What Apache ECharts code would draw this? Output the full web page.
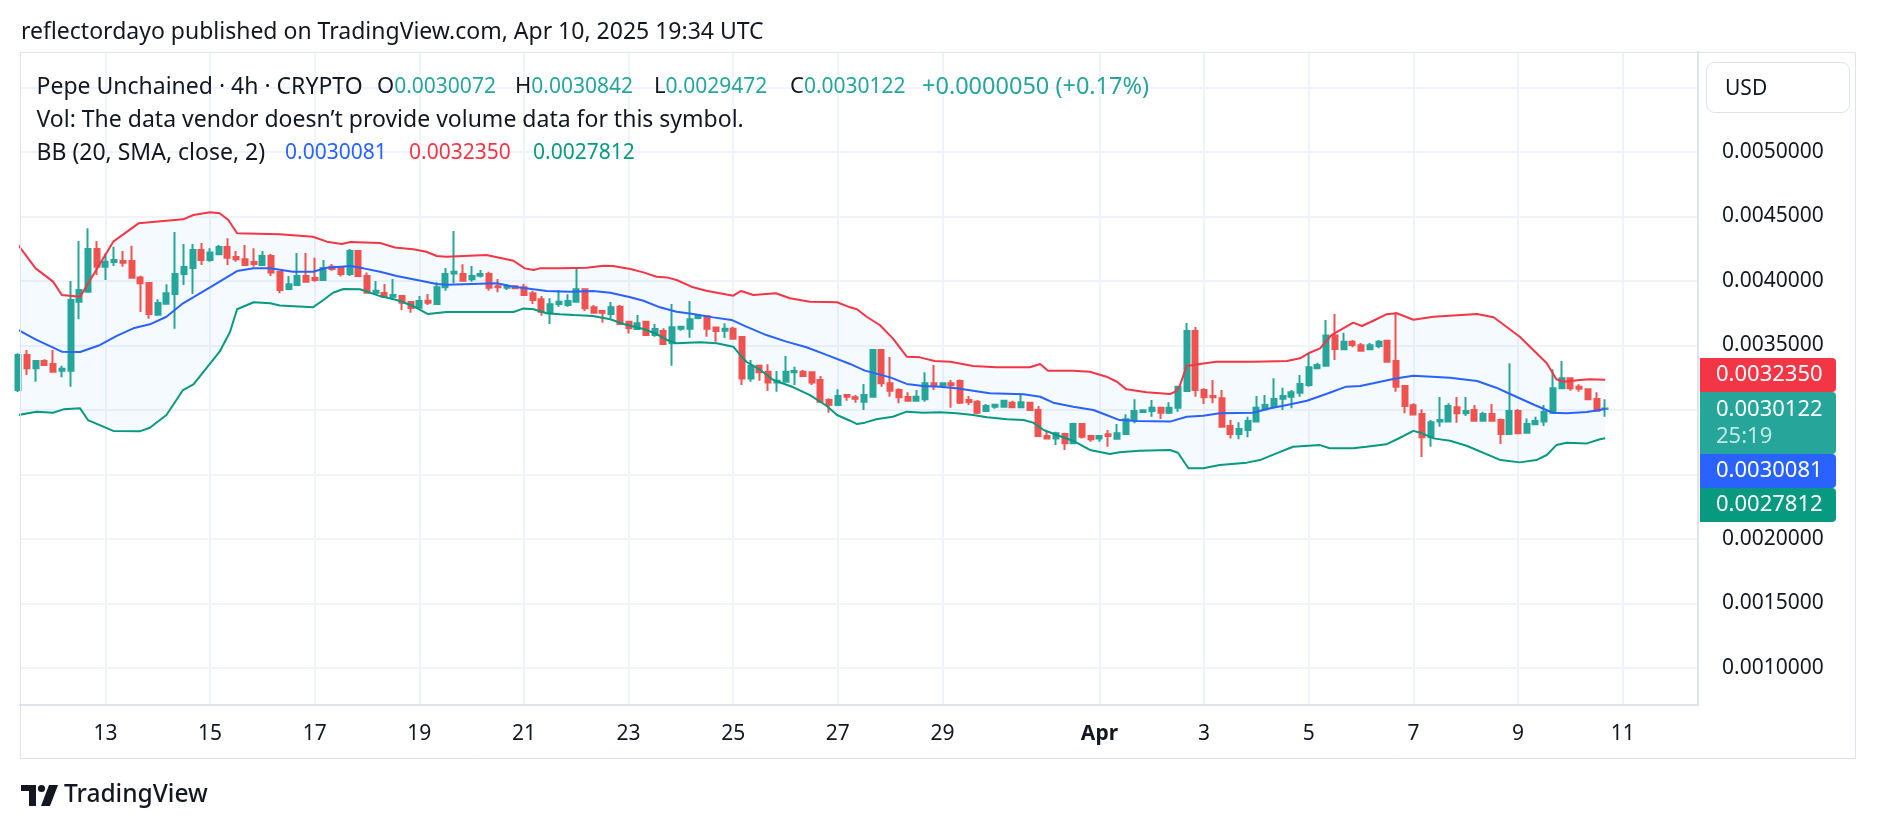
<!DOCTYPE html>
<html><head><meta charset="utf-8">
<script src="https://cdn.jsdelivr.net/npm/echarts@6/dist/echarts.min.js"></script>
<style>html,body{margin:0;padding:0;background:#fff;}#c{width:1878px;height:830px;}</style>
</head><body><div id="c"></div>
<script>
// first candle open time (4h candles, UTC)
const startTime = Date.UTC(2025, 2, 11, 8);
const stepMs = 4 * 3600 * 1000;

const tickDates = ['2025-03-13','2025-03-15','2025-03-17','2025-03-19','2025-03-21','2025-03-23','2025-03-25','2025-03-27','2025-03-29','2025-04-01','2025-04-03','2025-04-05','2025-04-07','2025-04-09','2025-04-11'];
const tickLabels = ['13','15','17','19','21','23','25','27','29','Apr','3','5','7','9','11'];
const priceTicks = [0.001,0.0015,0.002,0.0025,0.003,0.0035,0.004,0.0045,0.005];
const priceGrid = [0.001,0.0015,0.002,0.0025,0.003,0.0035,0.004,0.0045,0.005,0.0055];

const open = [
0.003155,0.003426,0.003323,0.003380,0.003356,0.003305,0.003305,0.003840,0.003917,0.004248,
0.004111,0.004147,0.004155,0.004155,0.004028,0.003985,0.003739,0.003824,0.003899,0.004054,
0.004101,0.004240,0.004163,0.004207,0.004264,0.004186,0.004168,0.004147,0.004124,0.004194,
0.004070,0.003938,0.003969,0.004039,0.004023,0.004008,0.004111,0.004101,0.004054,0.004233,
0.004039,0.003909,0.003907,0.003878,0.003883,0.003837,0.003793,0.003847,0.003822,0.003951,
0.004059,0.004054,0.004013,0.004041,0.004054,0.003959,0.003948,0.003959,0.003951,0.003905,
0.003858,0.003750,0.003822,0.003814,0.003840,0.003936,0.003796,0.003768,0.003744,0.003801,
0.003685,0.003628,0.003685,0.003581,0.003612,0.003517,0.003630,0.003630,0.003713,0.003726,
0.003639,0.003615,0.003630,0.003566,0.003245,0.003344,0.003297,0.003214,0.003219,0.003292,
0.003297,0.003292,0.003232,0.003078,0.003039,0.003116,0.003098,0.003064,0.003103,0.003465,
0.003207,0.003155,0.003101,0.003072,0.003083,0.003207,0.003191,0.003207,0.003225,0.003078,
0.003064,0.002992,0.003026,0.003026,0.003057,0.003021,0.003057,0.003000,0.002798,0.002780,
0.002814,0.002742,0.002891,0.002798,0.002780,0.002812,0.002777,0.002814,0.002922,0.002984,
0.002992,0.003018,0.002979,0.003018,0.003147,0.003612,0.003155,0.003109,0.003091,0.002876,
0.002814,0.002845,0.002910,0.003005,0.003026,0.003088,0.003103,0.003134,0.003194,0.003323,
0.003344,0.003577,0.003470,0.003529,0.003501,0.003470,0.003496,0.003537,0.003380,0.003186,
0.003036,0.002969,0.002788,0.002910,0.002910,0.003021,0.002974,0.003000,0.002917,0.002969,
0.002922,0.002814,0.002992,0.002824,0.002889,0.002910,0.002979,0.003168,0.003246,0.003181,
0.003160,0.003085,0.0030072];
const close = [
0.003426,0.003323,0.003380,0.003349,0.003297,0.003320,0.003853,0.003930,0.004248,0.004111,
0.004150,0.004163,0.004142,0.004025,0.003982,0.003744,0.003829,0.003905,0.004054,0.004108,
0.004240,0.004163,0.004220,0.004264,0.004181,0.004168,0.004124,0.004132,0.004194,0.004065,
0.003930,0.003975,0.004039,0.003995,0.004008,0.004101,0.004093,0.004054,0.004233,0.004039,
0.003909,0.003925,0.003878,0.003891,0.003832,0.003791,0.003845,0.003832,0.003951,0.004054,
0.004072,0.004002,0.004039,0.004054,0.003948,0.003951,0.003959,0.003943,0.003891,0.003853,
0.003762,0.003819,0.003840,0.003845,0.003936,0.003788,0.003754,0.003754,0.003796,0.003667,
0.003634,0.003672,0.003581,0.003628,0.003512,0.003641,0.003646,0.003703,0.003731,0.003630,
0.003612,0.003630,0.003553,0.003245,0.003344,0.003292,0.003214,0.003227,0.003297,0.003302,
0.003263,0.003214,0.003064,0.003041,0.003109,0.003103,0.003088,0.003116,0.003465,0.003207,
0.003150,0.003098,0.003072,0.003103,0.003207,0.003186,0.003207,0.003191,0.003057,0.003062,
0.002979,0.003031,0.003041,0.003072,0.003021,0.003060,0.003000,0.002798,0.002780,0.002819,
0.002742,0.002891,0.002793,0.002773,0.002798,0.002798,0.002819,0.002928,0.002992,0.002998,
0.003018,0.002979,0.003018,0.003181,0.003612,0.003155,0.003098,0.003098,0.002871,0.002814,
0.002853,0.002915,0.003018,0.003039,0.003085,0.003109,0.003137,0.003202,0.003331,0.003349,
0.003577,0.003473,0.003529,0.003504,0.003459,0.003501,0.003529,0.003374,0.003181,0.003031,
0.002966,0.002788,0.002905,0.002922,0.003031,0.002974,0.002992,0.002917,0.002969,0.002917,
0.002814,0.002992,0.002819,0.002891,0.002915,0.002984,0.003168,0.003246,0.003168,0.003165,
0.003083,0.002995,0.0030122];
const low = [
0.003140,0.003271,0.003219,0.003344,0.003297,0.003253,0.003181,0.003703,0.003917,0.004046,
0.004008,0.004116,0.004111,0.004025,0.003760,0.003708,0.003739,0.003824,0.003630,0.003969,
0.003899,0.004124,0.004150,0.004207,0.004124,0.004150,0.004124,0.004111,0.004116,0.004039,
0.003905,0.003938,0.003969,0.003995,0.003995,0.004008,0.004080,0.004034,0.004039,0.004039,
0.003909,0.003891,0.003878,0.003853,0.003775,0.003754,0.003793,0.003814,0.003822,0.003925,
0.003982,0.004002,0.003995,0.004028,0.003925,0.003912,0.003930,0.003938,0.003891,0.003822,
0.003731,0.003667,0.003801,0.003801,0.003840,0.003768,0.003754,0.003677,0.003713,0.003659,
0.003594,0.003628,0.003581,0.003568,0.003504,0.003344,0.003615,0.003561,0.003703,0.003568,
0.003530,0.003558,0.003553,0.003194,0.003219,0.003227,0.003147,0.003142,0.003219,0.003194,
0.003258,0.003194,0.003064,0.002979,0.003039,0.003072,0.003057,0.003000,0.003103,0.003181,
0.003103,0.003052,0.003072,0.003072,0.003064,0.003155,0.003181,0.003018,0.003047,0.003039,
0.002969,0.002984,0.003010,0.003026,0.003021,0.003021,0.002995,0.002798,0.002773,0.002728,
0.002690,0.002742,0.002780,0.002754,0.002754,0.002715,0.002777,0.002806,0.002897,0.002979,
0.002948,0.002930,0.002969,0.002987,0.003147,0.003103,0.003047,0.003052,0.002871,0.002780,
0.002773,0.002788,0.002910,0.003005,0.003026,0.003000,0.003013,0.003103,0.003181,0.003323,
0.003344,0.003388,0.003470,0.003486,0.003452,0.003470,0.003478,0.003374,0.003142,0.002974,
0.002966,0.002636,0.002715,0.002871,0.002910,0.002902,0.002953,0.002917,0.002917,0.002910,
0.002736,0.002806,0.002814,0.002824,0.002889,0.002876,0.002979,0.003168,0.003150,0.003142,
0.003083,0.002995,0.0029472];
const high = [
0.003440,0.003465,0.003385,0.003393,0.003465,0.003344,0.004000,0.004310,0.004409,0.004310,
0.004215,0.004266,0.004233,0.004274,0.004041,0.003985,0.003858,0.003974,0.004380,0.004287,
0.004287,0.004294,0.004254,0.004279,0.004331,0.004233,0.004279,0.004254,0.004233,0.004209,
0.004070,0.004039,0.004217,0.004217,0.004181,0.004163,0.004132,0.004116,0.004248,0.004240,
0.004065,0.004000,0.003977,0.004016,0.003883,0.003845,0.003883,0.003899,0.003990,0.004101,
0.004388,0.004130,0.004116,0.004085,0.004072,0.004016,0.003977,0.003969,0.003977,0.003925,
0.003883,0.003866,0.003930,0.003897,0.004106,0.003943,0.003814,0.003768,0.003837,0.003814,
0.003685,0.003736,0.003692,0.003667,0.003634,0.003822,0.003651,0.003845,0.003744,0.003731,
0.003646,0.003672,0.003646,0.003566,0.003388,0.003349,0.003355,0.003302,0.003419,0.003336,
0.003310,0.003297,0.003263,0.003091,0.003161,0.003116,0.003116,0.003201,0.003470,0.003473,
0.003411,0.003168,0.003137,0.003155,0.003292,0.003349,0.003207,0.003232,0.003237,0.003109,
0.003078,0.003047,0.003047,0.003078,0.003072,0.003124,0.003064,0.003031,0.002838,0.002831,
0.002824,0.002902,0.002891,0.002806,0.002798,0.002845,0.002891,0.002967,0.003083,0.002998,
0.003078,0.003018,0.003060,0.003181,0.003674,0.003643,0.003168,0.003232,0.003155,0.002922,
0.002905,0.002948,0.003109,0.003116,0.003246,0.003173,0.003155,0.003271,0.003439,0.003367,
0.003698,0.003744,0.003599,0.003543,0.003520,0.003520,0.003543,0.003537,0.003757,0.003186,
0.003052,0.003005,0.002922,0.003101,0.003052,0.003101,0.003101,0.003039,0.002987,0.003047,
0.002935,0.003362,0.003008,0.002935,0.002948,0.003039,0.003315,0.003380,0.003253,0.003199,
0.003160,0.003137,0.0030842];

// Bollinger band readings: [candle index, price]
const bbUpper = [[0,0.004279],[2.0,0.004098],[4.0,0.003995],[5.0,0.003891],[7.1,0.003878],[8.6,0.004047],[10.9,0.004305],[13.8,0.004447],[18.9,0.004478],[20.1,0.004512],[22.0,0.004533],[23.1,0.004525],[24.1,0.004473],[25.1,0.004370],[30.0,0.004362],[33.8,0.004343],[35.4,0.004305],[37.1,0.004287],[38.1,0.004302],[41.5,0.004294],[43.2,0.004260],[45.3,0.004246],[46.8,0.004227],[48.0,0.004194],[49.1,0.004188],[53.7,0.004202],[56.8,0.004157],[58.1,0.004098],[59.1,0.004085],[59.8,0.004098],[62.1,0.004098],[65.2,0.004103],[67.1,0.004119],[68.2,0.004116],[70.2,0.004093],[71.7,0.004067],[73.2,0.004033],[74.4,0.004028],[75.5,0.004008],[77.2,0.003956],[78.9,0.003925],[82.0,0.003886],[82.9,0.003923],[84.3,0.003891],[86.9,0.003905],[88.5,0.003866],[90.8,0.003840],[93.9,0.003835],[95.4,0.003796],[96.2,0.003781],[97.3,0.003723],[98.8,0.003659],[100.3,0.003555],[101.9,0.003413],[103.4,0.003408],[105.1,0.003380],[106.9,0.003374],[109.5,0.003341],[112.2,0.003331],[116.0,0.003331],[117.2,0.003356],[118.1,0.003305],[121.0,0.003305],[122.9,0.003297],[124.8,0.003258],[126.0,0.003219],[127.1,0.003160],[129.4,0.003137],[132.1,0.003124],[132.7,0.003142],[133.2,0.003186],[134.0,0.003341],[135.5,0.003356],[137.4,0.003374],[141.6,0.003374],[145.5,0.003380],[147.0,0.003401],[148.1,0.003444],[149.3,0.003478],[150.6,0.003581],[153.1,0.003677],[154.1,0.003651],[155.4,0.003692],[156.9,0.003742],[158.1,0.003750],[160.0,0.003700],[162.3,0.003723],[167.3,0.003744],[169.2,0.003719],[172.2,0.003568],[175.3,0.003362],[176.4,0.003238],[177.2,0.003219],[179.1,0.003233],[180.2,0.003238],[182,0.0032350]];
const bbBasis = [[0,0.003620],[2.1,0.003543],[5.0,0.003452],[7.1,0.003450],[9.4,0.003504],[11.3,0.003574],[13.2,0.003633],[15.1,0.003664],[17.0,0.003723],[18.9,0.003827],[22.0,0.003951],[25.1,0.004077],[27.0,0.004098],[28.9,0.004098],[31.5,0.004072],[33.8,0.004072],[35.4,0.004103],[38.1,0.004116],[39.6,0.004098],[41.5,0.004072],[43.4,0.004039],[45.3,0.004013],[48.0,0.003977],[49.1,0.003971],[54.9,0.003982],[56.8,0.003956],[59.1,0.003936],[60.6,0.003923],[63.3,0.003917],[65.9,0.003923],[67.9,0.003909],[70.2,0.003874],[71.7,0.003847],[73.6,0.003796],[75.5,0.003762],[77.4,0.003744],[79.7,0.003718],[81.8,0.003698],[83.5,0.003646],[85.8,0.003581],[88.1,0.003530],[90.4,0.003486],[92.7,0.003427],[95.4,0.003357],[97.1,0.003305],[100.0,0.003253],[101.9,0.003202],[103.8,0.003186],[105.7,0.003181],[107.6,0.003168],[109.5,0.003150],[111.4,0.003129],[115.3,0.003122],[117.2,0.003103],[118.7,0.003057],[121.0,0.003026],[123.3,0.003000],[124.8,0.002961],[126.3,0.002922],[128.3,0.002915],[132.1,0.002910],[134.0,0.002948],[135.9,0.002956],[137.8,0.002974],[141.6,0.002979],[143.6,0.003013],[145.5,0.003039],[147.8,0.003072],[150.0,0.003124],[152.3,0.003181],[153.9,0.003186],[155.4,0.003207],[158.1,0.003246],[160.0,0.003266],[164.2,0.003250],[167.3,0.003225],[169.5,0.003173],[171.1,0.003124],[173.9,0.003039],[176.0,0.002979],[177.6,0.002974],[179.9,0.002984],[182,0.0030081]];
const bbLower = [[0,0.002961],[2.1,0.002987],[4.0,0.002979],[5.2,0.003005],[7.1,0.003013],[8.0,0.002922],[10.9,0.002838],[14.0,0.002836],[15.1,0.002862],[17.0,0.002961],[18.9,0.003155],[20.1,0.003199],[23.1,0.003452],[24.3,0.003607],[25.1,0.003781],[27.0,0.003835],[28.9,0.003827],[30.0,0.003810],[33.8,0.003796],[35.0,0.003853],[36.1,0.003909],[37.3,0.003938],[39.2,0.003936],[41.5,0.003883],[43.4,0.003853],[45.3,0.003806],[47.0,0.003744],[49.1,0.003760],[56.8,0.003760],[57.9,0.003786],[59.1,0.003781],[60.6,0.003750],[62.1,0.003742],[63.7,0.003736],[65.9,0.003729],[67.9,0.003703],[69.4,0.003667],[71.7,0.003628],[73.2,0.003589],[74.4,0.003543],[75.5,0.003517],[78.2,0.003525],[80.1,0.003517],[82.0,0.003491],[82.8,0.003427],[83.5,0.003374],[85.1,0.003310],[86.6,0.003233],[88.9,0.003176],[90.8,0.003116],[92.7,0.003033],[93.9,0.002961],[95.4,0.002917],[96.2,0.002891],[97.1,0.002902],[98.4,0.002928],[100.3,0.002948],[101.9,0.002987],[103.8,0.002979],[105.7,0.002982],[107.6,0.002974],[109.5,0.002961],[111.1,0.002943],[113.4,0.002928],[115.3,0.002922],[116.4,0.002902],[117.6,0.002845],[119.1,0.002806],[121.0,0.002760],[122.9,0.002690],[125.2,0.002659],[126.3,0.002672],[128.6,0.002684],[132.1,0.002690],[133.0,0.002669],[134.2,0.002548],[135.9,0.002548],[137.8,0.002574],[140.9,0.002592],[142.4,0.002612],[144.3,0.002664],[146.2,0.002715],[149.3,0.002728],[150.4,0.002703],[153.1,0.002703],[154.6,0.002715],[156.9,0.002734],[158.3,0.002779],[160.0,0.002838],[160.8,0.002824],[162.3,0.002780],[164.2,0.002762],[166.1,0.002723],[170.0,0.002612],[172.2,0.002594],[174.1,0.002612],[175.3,0.002651],[176.4,0.002728],[177.6,0.002746],[179.9,0.002741],[181.4,0.002773],[182,0.0027812]];

const lastOpen = 0.0030072, lastHigh = 0.0030842, lastLow = 0.0029472, lastClose = 0.0030122;
const lastBasis = 0.0030081, lastUpper = 0.0032350, lastLower = 0.0027812;

// ---------- build ----------
const FONT = '"Noto Sans", "Open Sans", sans-serif';
const TXT = '#131722';
const UP = '#26a69a', DOWN = '#ef5350';
const tickIdx = tickDates.map(d => (Date.parse(d + 'T00:00:00Z') - startTime) / stepMs);
const candles = open.map((o, i) => [i, o, close[i], low[i], high[i]]);

const chart = echarts.init(document.getElementById('c'), null, {renderer: 'canvas'});
const option = {
  animation: false,
  backgroundColor: '#ffffff',
  textStyle: {fontFamily: FONT},
  grid: {left: 20, right: 180, top: 52, bottom: 125, containLabel: false},
  xAxis: {
    type: 'value', min: 0.206, max: 192.64,
    axisLine: {show: true, onZero: false, lineStyle: {color: '#e0e3eb', width: 2}},
    axisTick: {show: false, customValues: tickIdx},
    axisLabel: {
      customValues: tickIdx, margin: 18, fontSize: 21, lineHeight: 22, color: TXT, fontFamily: FONT,
      formatter: v => { const k = tickIdx.findIndex(t => Math.abs(t - v) < 1e-6); const s = k >= 0 ? tickLabels[k] : ''; return s === 'Apr' ? '{b|Apr}' : s; },
      rich: {b: {fontWeight: 'bold', fontSize: 21, color: TXT, fontFamily: FONT}}
    },
    splitLine: {show: true, lineStyle: {color: '#f0f3fa', width: 2}}
  },
  yAxis: {
    type: 'value', position: 'right', min: 0.0007132, max: 0.0057752, scale: true,
    axisLine: {show: true, lineStyle: {color: '#e0e3eb', width: 2}},
    axisTick: {show: false, customValues: priceGrid},
    axisLabel: {customValues: priceTicks, margin: 24, fontSize: 21, color: TXT, fontFamily: FONT, formatter: v => v.toFixed(7)},
    splitLine: {show: true, lineStyle: {color: '#f0f3fa', width: 2}}
  },
  series: [
    {
      type: 'custom', silent: true, z: 1, clip: true,
      data: [[50, 0.003]],
      renderItem: (params, api) => {
        const pts = bbUpper.map(p => api.coord(p)).concat(bbLower.slice().reverse().map(p => api.coord(p)));
        return {type: 'polygon', shape: {points: pts}, style: {fill: 'rgba(33,150,243,0.05)'}};
      }
    },
    {type: 'candlestick', data: candles, encode: {x: 0, y: [1, 2, 3, 4]}, barWidth: 5.5, z: 3, silent: true,
     itemStyle: {color: UP, color0: DOWN, borderColor: UP, borderColor0: DOWN, borderWidth: 2}},
    {type: 'line', data: bbBasis, showSymbol: false, silent: true, z: 4, lineStyle: {color: '#2962ff', width: 2}},
    {type: 'line', data: bbUpper, showSymbol: false, silent: true, z: 4, lineStyle: {color: '#f23645', width: 2}},
    {type: 'line', data: bbLower, showSymbol: false, silent: true, z: 4, lineStyle: {color: '#089981', width: 2}}
  ]
};
chart.setOption(option);

function txt(x, y, text, size, color, weight) {
  return {type: 'text', x: x, y: y, z: 100,
    style: {text: text, fill: color || TXT, font: (weight ? weight + ' ' : '') + (size || 21) + 'px ' + FONT, verticalAlign: 'middle'}};
}
function fmt(v) { return v.toFixed(7); }
const G = [];
// frame
G.push({type: 'rect', shape: {x: 20.5, y: 52.5, width: 1835, height: 706}, style: {fill: 'none', stroke: '#e0e3eb', lineWidth: 1}, z: 50, silent: true});
// header
G.push(txt(21, 32, 'reflectordayo published on TradingView.com, Apr 10, 2025 19:34 UTC', 23, TXT));
// legend
const ohlc = [['O', lastOpen, 377], ['H', lastHigh, 515], ['L', lastLow, 654], ['C', lastClose, 790]];
G.push(txt(36.5, 87, 'Pepe Unchained \u00b7 4h \u00b7 CRYPTO', 23, TXT));
ohlc.forEach(o => G.push({type: 'text', x: o[2], y: 87, z: 100, style: {text: '{k|' + o[0] + '}{v|' + fmt(o[1]) + '}', font: '21px ' + FONT, verticalAlign: 'middle',
  rich: {k: {fill: TXT, font: '22px ' + FONT}, v: {fill: UP, font: '21px ' + FONT}}}}));
G.push(txt(922, 87, '+' + fmt(lastClose - lastOpen) + ' (+0.17%)', 23.5, UP));
G.push(txt(36.5, 120, 'Vol: The data vendor doesn\u2019t provide volume data for this symbol.', 23, TXT));
G.push(txt(36.5, 153, 'BB (20, SMA, close, 2)', 23, TXT));
G.push(txt(285, 153, fmt(lastBasis), 21, '#2962ff'));
G.push(txt(409, 153, fmt(lastUpper), 21, '#f23645'));
G.push(txt(533, 153, fmt(lastLower), 21, '#089981'));
// USD button
G.push({type: 'rect', shape: {x: 1706.5, y: 62.5, width: 143, height: 50, r: 8}, style: {fill: '#fff', stroke: '#e0e3eb', lineWidth: 1}, z: 60});
G.push(txt(1725, 89, 'USD', 21, TXT));
// price tags
const yC = chart.convertToPixel({yAxisIndex: 0}, lastClose);
const gTop = Math.round(yC - 16);
function tag(top, h, color) { return {type: 'rect', shape: {x: 1700, y: top, width: 136, height: h, r: [0, 4, 4, 0]}, style: {fill: color}, z: 80}; }
G.push(tag(gTop - 34, 34, '#f23645'));
G.push(txt(1716, gTop - 17, fmt(lastUpper), 22, '#fff'));
G.push(tag(gTop, 62, UP));
G.push(txt(1716, gTop + 18, fmt(lastClose), 22, '#fff'));
G.push(txt(1716, gTop + 45, '25:19', 22, 'rgba(255,255,255,0.72)'));
G.push(tag(gTop + 62, 34, '#2962ff'));
G.push(txt(1716, gTop + 79, fmt(lastBasis), 22, '#fff'));
G.push(tag(gTop + 96, 34, '#089981'));
G.push(txt(1716, gTop + 113, fmt(lastLower), 22, '#fff'));
// TradingView logo
G.push({type: 'polygon', shape: {points: [[21, 785], [36, 785], [36, 806], [29, 806], [29, 791], [21, 791]]}, style: {fill: TXT}, z: 100});
G.push({type: 'circle', shape: {cx: 41.5, cy: 788.5, r: 3.6}, style: {fill: TXT}, z: 100});
G.push({type: 'polygon', shape: {points: [[49, 785], [58, 785], [50, 806], [41, 806]]}, style: {fill: TXT}, z: 100});
G.push(txt(64, 795, 'TradingView', 24.5, TXT, 500));

chart.setOption({graphic: {elements: G}});
</script></body></html>
